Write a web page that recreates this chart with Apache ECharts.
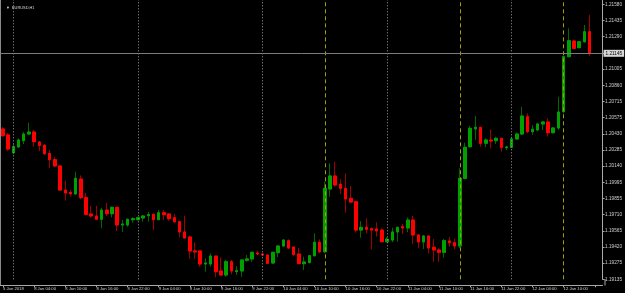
<!DOCTYPE html>
<html>
<head>
<meta charset="utf-8">
<script src="https://cdn.jsdelivr.net/npm/echarts@6/dist/echarts.min.js"></script>
<style>
html, body { margin: 0; padding: 0; background: #000; }
#main { width: 625px; height: 293px; }
</style>
</head>
<body>
<div id="main"></div>
<script>
// EURUSD H1, 5 Jan 22:00 .. 12 Jan 15:00 (two empty slots = chart shift)
var categories = ['5 Jan 22:00', '5 Jan 23:00'];
[8, 9, 10, 11, 12].forEach(function (d) {
    var last = d === 12 ? 17 : 23;
    for (var h = 0; h <= last; h++) {
        categories.push(d + ' Jan ' + (h < 10 ? '0' : '') + h + ':00');
    }
});

var timeLabels = ['5 Jan 2018', '8 Jan 04:00', '8 Jan 10:00', '8 Jan 16:00', '8 Jan 22:00',
    '9 Jan 04:00', '9 Jan 10:00', '9 Jan 16:00', '9 Jan 22:00', '10 Jan 04:00',
    '10 Jan 10:00', '10 Jan 16:00', '10 Jan 22:00', '11 Jan 04:00', '11 Jan 10:00',
    '11 Jan 16:00', '11 Jan 22:00', '12 Jan 04:00', '12 Jan 10:00'];

var priceLabels = ['1.19135', '1.19275', '1.19420', '1.19565', '1.19710', '1.19855',
    '1.19995', '1.20140', '1.20285', '1.20430', '1.20575', '1.20715', '1.20860',
    '1.21005', '1.21150', '1.21290', '1.21435', '1.21580'];

var daySeparators = ['8 Jan 00:00', '9 Jan 00:00', '10 Jan 00:00', '11 Jan 00:00', '12 Jan 00:00'];
var eventLines = ['10 Jan 12:00', '11 Jan 14:00', '12 Jan 10:00'];

var opens = [1.20472,1.20418,1.20261,1.20312,1.20368,1.20427,1.20445,1.20356,1.20327,1.20254,
    1.20199,1.20143,1.19929,1.19907,1.19894,1.20027,1.19861,1.19716,1.19698,1.19669,
    1.19751,1.19718,1.19775,1.19618,1.19618,1.19665,1.19665,1.19680,1.19701,1.19713,
    1.19665,1.19727,1.19716,1.19683,1.19647,1.19556,1.19511,1.19387,1.19387,1.19271,
    1.19271,1.19342,1.19209,1.19173,1.19291,1.19203,1.19209,1.19304,1.19316,1.19369,
    1.19360,1.19351,1.19280,1.19372,1.19431,1.19478,1.19422,1.19360,1.19274,1.19283,
    1.19345,1.19464,1.19380,1.19938,1.20054,1.19980,1.19944,1.19855,1.19825,1.19573,
    1.19597,1.19585,1.19582,1.19573,1.19469,1.19484,1.19556,1.19603,1.19591,1.19662,
    1.19529,1.19467,1.19520,1.19420,1.19396,1.19375,1.19476,1.19460,1.19431,1.20033,
    1.20314,1.20472,1.20487,1.20345,1.20374,1.20368,1.20389,1.20305,1.20309,1.20383,
    1.20427,1.20581,1.20448,1.20463,1.20516,1.20534,1.20439,1.20481,1.20626,1.21115,
    1.21254,1.21195,1.21248,1.21337];

var closes = [1.20412,1.20294,1.20314,1.20374,1.20427,1.20445,1.20359,1.20325,1.20252,1.20199,
    1.20143,1.19929,1.19902,1.19896,1.20033,1.19861,1.19713,1.19698,1.19669,1.19751,
    1.19718,1.19775,1.19618,1.19627,1.19669,1.19674,1.19683,1.19698,1.19710,1.19665,
    1.19727,1.19710,1.19674,1.19647,1.19556,1.19502,1.19387,1.19378,1.19271,1.19280,
    1.19342,1.19203,1.19173,1.19291,1.19209,1.19211,1.19307,1.19316,1.19375,1.19360,
    1.19351,1.19277,1.19375,1.19431,1.19484,1.19413,1.19357,1.19274,1.19289,1.19345,
    1.19464,1.19380,1.19944,1.20054,1.19974,1.19944,1.19849,1.19822,1.19573,1.19597,
    1.19580,1.19573,1.19565,1.19469,1.19493,1.19556,1.19597,1.19591,1.19662,1.19529,
    1.19467,1.19520,1.19413,1.19396,1.19375,1.19478,1.19460,1.19431,1.20033,1.20309,
    1.20478,1.20487,1.20345,1.20374,1.20365,1.20389,1.20309,1.20312,1.20383,1.20427,
    1.20587,1.20448,1.20469,1.20516,1.20534,1.20439,1.20481,1.20623,1.21115,1.21257,
    1.21189,1.21248,1.21337,1.21145];

var lows = [1.20401,1.20276,1.20249,1.20303,1.20338,1.20418,1.20312,1.20276,1.20240,1.20125,
    1.20131,1.19920,1.19834,1.19870,1.19889,1.19846,1.19704,1.19683,1.19662,1.19589,
    1.19698,1.19686,1.19565,1.19556,1.19603,1.19638,1.19660,1.19647,1.19647,1.19573,
    1.19665,1.19662,1.19656,1.19633,1.19509,1.19498,1.19316,1.19316,1.19247,1.19203,
    1.19247,1.19153,1.19169,1.19158,1.19179,1.19173,1.19158,1.19291,1.19291,1.19351,
    1.19342,1.19271,1.19271,1.19331,1.19425,1.19407,1.19342,1.19271,1.19218,1.19277,
    1.19336,1.19366,1.19366,1.19870,1.19959,1.19894,1.19727,1.19816,1.19549,1.19505,
    1.19544,1.19402,1.19514,1.19464,1.19464,1.19464,1.19469,1.19538,1.19553,1.19449,
    1.19411,1.19404,1.19366,1.19291,1.19291,1.19327,1.19425,1.19402,1.19411,1.20024,
    1.20309,1.20374,1.20314,1.20309,1.20300,1.20338,1.20270,1.20285,1.20305,1.20374,
    1.20418,1.20433,1.20418,1.20454,1.20463,1.20403,1.20433,1.20463,1.20611,1.21109,
    1.21181,1.21189,1.21239,1.21121];

var highs = [1.20489,1.20436,1.20338,1.20389,1.20445,1.20528,1.20463,1.20365,1.20338,1.20285,
    1.20225,1.20152,1.20012,1.19929,1.20092,1.20060,1.19905,1.19787,1.19787,1.19772,
    1.19816,1.19781,1.19778,1.19662,1.19674,1.19686,1.19692,1.19707,1.19734,1.19722,
    1.19751,1.19751,1.19720,1.19718,1.19653,1.19701,1.19523,1.19460,1.19387,1.19322,
    1.19366,1.19342,1.19331,1.19307,1.19307,1.19253,1.19307,1.19351,1.19380,1.19389,
    1.19366,1.19357,1.19380,1.19440,1.19491,1.19491,1.19422,1.19416,1.19336,1.19351,
    1.19544,1.19491,1.20003,1.20167,1.20181,1.20024,1.20078,1.19965,1.19825,1.19653,
    1.19677,1.19597,1.19642,1.19589,1.19509,1.19594,1.19603,1.19627,1.19686,1.19698,
    1.19533,1.19529,1.19524,1.19493,1.19411,1.19493,1.19514,1.19496,1.20122,1.20350,
    1.20501,1.20587,1.20489,1.20389,1.20469,1.20403,1.20392,1.20321,1.20403,1.20439,
    1.20670,1.20611,1.20507,1.20528,1.20543,1.20567,1.20487,1.20759,1.21115,1.21367,
    1.21263,1.21254,1.21397,1.21486];

var lastPrice = 1.21145;
var priceMin = 1.19135, priceMax = 1.21619, priceStep = 0.0014382;

var wickData = opens.map(function (o, i) {
    return [o, closes[i], lows[i], highs[i]];
});
var bodyData = opens.map(function (o, i) {
    return [o, closes[i], Math.min(o, closes[i]), Math.max(o, closes[i])];
});

var markLines = [];
daySeparators.forEach(function (c) {
    markLines.push({ xAxis: c, lineStyle: { color: '#9a9a9a', type: [1, 2] } });
});
eventLines.forEach(function (c) {
    markLines.push({ xAxis: c, lineStyle: { color: '#a0a000', type: [4, 3] } });
});
// current bid line with its price box
markLines.push({
    yAxis: lastPrice,
    lineStyle: { color: '#7c7c7c', type: 'solid' },
    label: {
        show: true, position: 'end', distance: 1,
        formatter: lastPrice.toFixed(5),
        color: '#000', backgroundColor: '#d6d6d6',
        fontSize: 4.7, fontFamily: 'Liberation Sans', padding: [1, 2, 1, 2]
    }
});

var chart = echarts.init(document.getElementById('main'));
chart.setOption({
    animation: false,
    backgroundColor: '#000',
    title: {
        text: '\u25BC  EURUSD,H1',
        left: 1, top: 1,
        textStyle: { color: '#d8d8d8', fontSize: 3.9, fontWeight: 'normal', fontFamily: 'Liberation Sans' }
    },
    grid: { left: -1, right: 20, top: 0, bottom: 13.7 },
    xAxis: {
        type: 'category',
        data: categories,
        boundaryGap: true,
        offset: 6,
        axisLine: { lineStyle: { color: '#a8a8a8' } },
        axisTick: { show: true, interval: 5, alignWithLabel: true, length: 2, lineStyle: { color: '#a8a8a8' } },
        axisLabel: {
            interval: 5, align: 'left', margin: 1.5,
            color: '#d0d0d0', fontSize: 4.2, fontFamily: 'Liberation Sans',
            formatter: function (v, i) { return timeLabels[i / 6] || ''; }
        },
        splitLine: { show: false }
    },
    yAxis: {
        type: 'value',
        position: 'right',
        scale: true,
        min: priceMin, max: priceMax, interval: priceStep,
        axisLine: { show: true, lineStyle: { color: '#a8a8a8' } },
        axisTick: { show: true, length: 2, lineStyle: { color: '#a8a8a8' } },
        axisLabel: {
            margin: 2.5, color: '#d0d0d0', fontSize: 4.7, fontFamily: 'Liberation Sans',
            showMaxLabel: false,
            formatter: function (v) {
                var k = Math.round((v - priceMin) / priceStep);
                if (Math.abs(v - (priceMin + k * priceStep)) > priceStep / 10) return '';
                return priceLabels[k] || '';
            }
        },
        splitLine: { show: false }
    },
    graphic: [
        { type: 'line', shape: { x1: 0.5, y1: 0, x2: 0.5, y2: 285.5 }, style: { stroke: '#8a8a8a', lineWidth: 1 } },
        { type: 'line', shape: { x1: 605, y1: 279, x2: 605, y2: 285.5 }, style: { stroke: '#a8a8a8', lineWidth: 1 } }
    ],
    series: [{
        type: 'candlestick',
        data: wickData,
        barWidth: 3,
        itemStyle: { color: '#006800', color0: '#a00000', borderColor: '#006800', borderColor0: '#a00000', borderWidth: 1 },
        markLine: { silent: true, symbol: 'none', precision: 5, data: markLines, label: { show: false } },
        z: 2
    }, {
        type: 'candlestick',
        data: bodyData,
        barWidth: 3,
        itemStyle: { color: '#00a000', color0: '#ff0000', borderColor: '#00a000', borderColor0: '#ff0000', borderWidth: 1 },
        z: 3
    }]
});
</script>
</body>
</html>
